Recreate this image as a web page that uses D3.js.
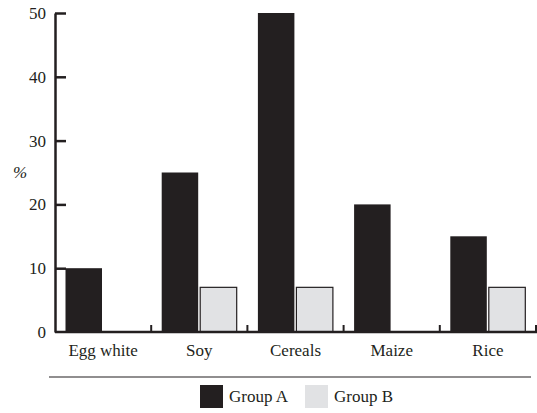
<!DOCTYPE html>
<html>
<head>
<meta charset="utf-8">
<script src="https://cdn.jsdelivr.net/npm/d3@7"></script>
<style>
  body { margin: 0; background: #fff; }
</style>
</head>
<body>
<svg id="chart"></svg>
<script>
var categories = ["Egg white", "Soy", "Cereals", "Maize", "Rice"];
var groups = ["Group A", "Group B"];
var groupA = [10, 25, 50, 20, 15];
var groupB = [0, 7, 7, 0, 7];
var yTicks = [0, 10, 20, 30, 40, 50];

var width = 537, height = 413;
var ink = "#231f20";
var serif = "Liberation Serif";
var colors = {"Group A": "#231f20", "Group B": "#e1e2e4"};

var rows = categories.map(function(c, i) {
  return {cat: c, "Group A": groupA[i], "Group B": groupB[i]};
});

var svg = d3.select("#chart").attr("width", width).attr("height", height);

var x = d3.scaleBand().domain(categories).range([55, 536]).padding(0);
var x1 = d3.scaleBand().domain(groups).range([10.5, 85.5]).paddingInner(0.052);
var y = d3.scaleLinear().domain([0, 50]).range([332, 13]);

// y axis, ticks pointing inward
var yAxis = d3.axisLeft(y).tickValues(yTicks).tickSizeInner(-11).tickSizeOuter(0).tickPadding(9);
var yg = svg.append("g").attr("transform", "translate(55,0)").call(yAxis);
yg.select(".domain").attr("stroke", ink).attr("stroke-width", 2.5);
yg.selectAll(".tick line").attr("stroke", ink).attr("stroke-width", 2.5);
yg.selectAll(".tick").filter(function(d) { return d === 0; }).select("line").remove();

// bars
var cat = svg.append("g").selectAll("g").data(rows).enter().append("g")
  .attr("transform", function(d) { return "translate(" + x(d.cat) + ",0)"; });
cat.selectAll("rect").data(function(d) {
    return groups.map(function(g) { return {g: g, v: d[g]}; }).filter(function(e) { return e.v > 0; });
  })
  .enter().append("rect")
  .attr("x", function(d) { return x1(d.g); })
  .attr("width", x1.bandwidth())
  .attr("y", function(d) { return y(d.v); })
  .attr("height", function(d) { return y(0) - y(d.v); })
  .attr("fill", function(d) { return colors[d.g]; })
  .attr("stroke", ink)
  .attr("stroke-width", function(d) { return d.g === "Group B" ? 1.2 : 0; });

// x axis with category labels
var xAxis = d3.axisBottom(x).tickSize(0).tickPadding(12);
var xg = svg.append("g").attr("transform", "translate(0,332)").call(xAxis);
xg.select(".domain").remove();
xg.append("line").attr("x1", 55).attr("x2", 537).attr("y1", 0).attr("y2", 0)
  .attr("stroke", ink).attr("stroke-width", 2.5);
xg.selectAll(".sep").data(categories).enter().append("line")
  .attr("class", "sep")
  .attr("x1", function(d) { return x(d) + x.bandwidth(); })
  .attr("x2", function(d) { return x(d) + x.bandwidth(); })
  .attr("y1", 0).attr("y2", -7)
  .attr("stroke", ink).attr("stroke-width", 2);

// y label
svg.append("text").attr("x", 20).attr("y", 178).attr("text-anchor", "middle")
  .style("font-style", "italic").text("%");

// separator line above legend
svg.append("line").attr("x1", 49).attr("x2", 531).attr("y1", 377).attr("y2", 377)
  .attr("stroke", ink).attr("stroke-width", 1.2);

// legend
var legX = {"Group A": 200, "Group B": 305};
var leg = svg.append("g").selectAll("g").data(groups).enter().append("g")
  .attr("transform", function(d) { return "translate(" + legX[d] + ",385)"; });
leg.append("rect").attr("width", 23).attr("height", 23).attr("fill", function(d) { return colors[d]; });
leg.append("text").attr("x", 29).attr("y", 17).text(function(d) { return d; });

// one font for every label
svg.selectAll("text")
  .style("font-family", serif)
  .style("font-size", "17px")
  .style("fill", ink);
</script>
</body>
</html>
